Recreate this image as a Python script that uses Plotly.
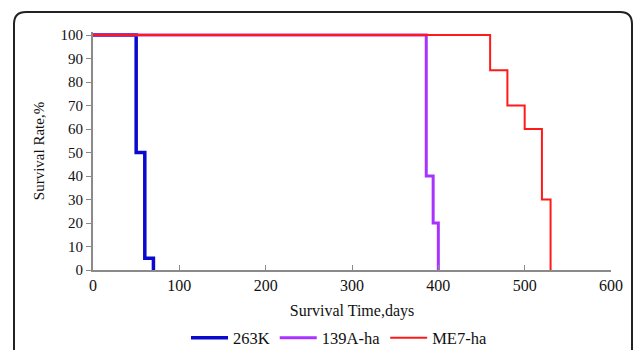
import plotly.graph_objects as go

# Data (Kaplan-Meier style step data)
days_263K = [0, 50, 60, 70]
surv_263K = [100, 50, 5, 0]
days_139A = [0, 386, 394, 400]
surv_139A = [100, 40, 20, 0]
days_ME7 = [0, 460, 480, 500, 520, 530]
surv_ME7 = [100, 85, 70, 60, 30, 0]

x_ticks = [0, 100, 200, 300, 400, 500, 600]
y_ticks = [0, 10, 20, 30, 40, 50, 60, 70, 80, 90, 100]

FONT = "Liberation Serif"

fig = go.Figure()
fig.add_trace(go.Scatter(x=days_263K, y=surv_263K, mode="lines", name="263K",
                         line=dict(color="#0A0ACC", width=3.5, shape="hv")))
fig.add_trace(go.Scatter(x=days_139A, y=surv_139A, mode="lines", name="139A-ha",
                         line=dict(color="#A833FF", width=3, shape="hv")))
fig.add_trace(go.Scatter(x=days_ME7, y=surv_ME7, mode="lines", name="ME7-ha",
                         line=dict(color="#FF1A1A", width=2, shape="hv")))

L, R, T, B = 93, 25, 32, 80
W, H = 636, 350
pw, ph = W - L - R, H - T - B
y_top = ph / 2.35  # keep 100 at ~35px from top, so the top line is not clipped

def px(x):
    return (x - L) / pw

def py(y):
    return (H - B - y) / ph

x0, x1 = px(14), px(632)
y0, y1 = py(362), py(12)
rx, ry = 12 / pw, 12 / ph
path = (f"M {x0},{y0} L {x0},{y1 - ry} Q {x0},{y1} {x0 + rx},{y1} "
        f"L {x1 - rx},{y1} Q {x1},{y1} {x1},{y1 - ry} L {x1},{y0}")

fig.update_layout(
    width=W, height=H,
    margin=dict(l=L, r=R, t=T, b=B, autoexpand=False),
    paper_bgcolor="white", plot_bgcolor="white",
    font=dict(family=FONT, size=15, color="#111"),
    showlegend=True,
    legend=dict(orientation="h", x=px(339), xanchor="center",
                yref="container", y=(H - 338) / H, yanchor="middle",
                font=dict(family=FONT, size=16.5), itemwidth=37, tracegroupgap=0),
    shapes=[dict(type="path", path=path, xref="paper", yref="paper",
                 line=dict(color="#222", width=2), layer="above")],
)
fig.update_xaxes(range=[0, 600], tickvals=x_ticks, showgrid=False, zeroline=False,
                 showline=True, linecolor="#8a8a8a", linewidth=2,
                 ticks="inside", ticklen=5, tickcolor="#8a8a8a", tickwidth=1,
                 tickfont=dict(size=16), automargin=False,
                 title=dict(text="Survival Time,days", standoff=16, font=dict(size=16)))
fig.update_yaxes(range=[0, y_top], tickvals=y_ticks, showgrid=False, zeroline=False,
                 showline=True, linecolor="#8a8a8a", linewidth=2,
                 ticks="outside", ticklen=5, tickcolor="#8a8a8a", tickwidth=1,
                 tickfont=dict(size=15), automargin=False,
                 title=dict(text="Survival Rate,%", standoff=12, font=dict(size=15)))

fig.write_html("out.html", config={"displayModeBar": False},
               post_script="document.body.style.margin='0';")
